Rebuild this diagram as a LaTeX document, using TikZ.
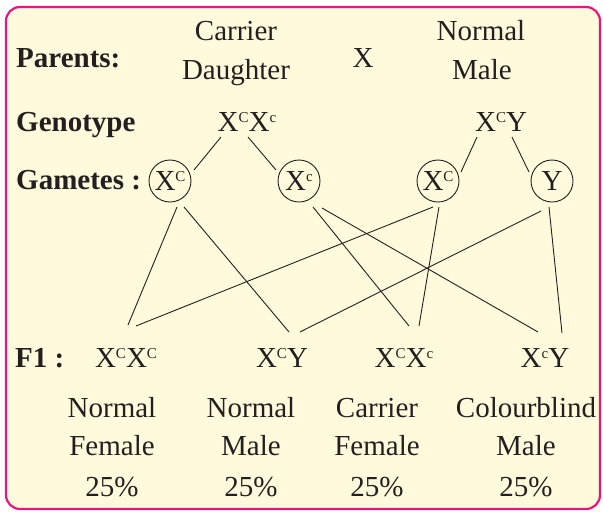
\documentclass[tikz,border=0pt]{standalone}
\usepackage{fontspec}
\setmainfont{Liberation Serif}
\usetikzlibrary{positioning}
\definecolor{boxpink}{HTML}{E5177E}
\definecolor{boxcream}{HTML}{FFFADB}
\definecolor{ink}{HTML}{231F20}
\newcommand{\up}[1]{\raisebox{8.5pt}{\fontsize{15}{15}\selectfont #1}}

\begin{document}
\begin{tikzpicture}[x=1pt, y=-1pt,
  every node/.style={inner sep=0pt, anchor=base, text=ink, font=\fontsize{29}{34}\selectfont},
  head/.style={font=\fontsize{29}{34}\selectfont\bfseries, anchor=base west},
  gamete/.style={circle, draw=ink, line width=0.9pt, minimum size=42pt, anchor=center},
  link/.style={draw=ink, line width=0.9pt}]
  \useasboundingbox (0,0) rectangle (603,512);
  \draw[boxpink, line width=2.2pt, fill=boxcream, rounded corners=14pt] (6,7) rectangle (600,509);

  \node[head] (parents) at (16,67) {Parents:};
  \node (mum) at (236,40) {Carrier};
  \node (mum2) at (236,79) {Daughter};
  \node (cross) at (363,67) {X};
  \node (dad) at (481,40) {Normal};
  \node (dad2) at (482,79) {Male};

  \node[head] (geno) at (16,131) {Genotype};
  \node (gf) at (247,131) {X\up{C}X\up{c}};
  \node (gm) at (501,131) {X\up{C}Y};

  \node[head] (gam) at (16,189) {Gametes :};
  \node[gamete] (gA) at (170,181) {X\up{C}};
  \node[gamete] (gB) at (299,181) {X\up{c}};
  \node[gamete] (gC) at (438,181) {X\up{C}};
  \node[gamete] (gD) at (552,181) {Y};

  \node[head] (f1) at (15,367) {F1 :};
  \node (f1a) at (126,367) {X\up{C}X\up{C}};
  \node (f1b) at (282,367) {X\up{C}Y};
  \node (f1c) at (404,367) {X\up{C}X\up{c}};
  \node (f1d) at (545,367) {X\up{c}Y};

  \foreach \x/\a/\b [count=\i] in {112/Normal/Female, 251/Normal/Male, 377/Carrier/Female, 526/Colourblind/Male} {
    \node (kind\i) at (\x,417) {\a};
    \node (sex\i) at (\x,455) {\b};
    \node (pct\i) at (\x,496) {25\%};
  }

  \draw[link] ([shift={(-26,6)}]gf.base) -- ([shift={(24,-11)}]gA.center);
  \draw[link] ([shift={(1,6)}]gf.base) -- ([shift={(-23,-11)}]gB.center);
  \draw[link] ([shift={(-24,6)}]gm.base) -- ([shift={(23,-9)}]gC.center);
  \draw[link] ([shift={(11,6)}]gm.base) -- ([shift={(-23,-9)}]gD.center);

  \draw[link] ([shift={(7,26)}]gA.center) -- ([shift={(2,-42)}]f1a.base);
  \draw[link] ([shift={(14,26)}]gA.center) -- ([shift={(7,-35)}]f1b.base);
  \draw[link] ([shift={(14,26)}]gB.center) -- ([shift={(5,-41)}]f1c.base);
  \draw[link] ([shift={(23,27)}]gB.center) -- ([shift={(-7,-35)}]f1d.base);
  \draw[link] ([shift={(-5,26)}]gC.center) -- ([shift={(10,-41)}]f1a.base);
  \draw[link] ([shift={(1,26)}]gC.center) -- ([shift={(15,-41)}]f1c.base);
  \draw[link] ([shift={(-11,30)}]gD.center) -- ([shift={(18,-35)}]f1b.base);
  \draw[link] ([shift={(-3,26)}]gD.center) -- ([shift={(17,-34)}]f1d.base);
\end{tikzpicture}
\end{document}
